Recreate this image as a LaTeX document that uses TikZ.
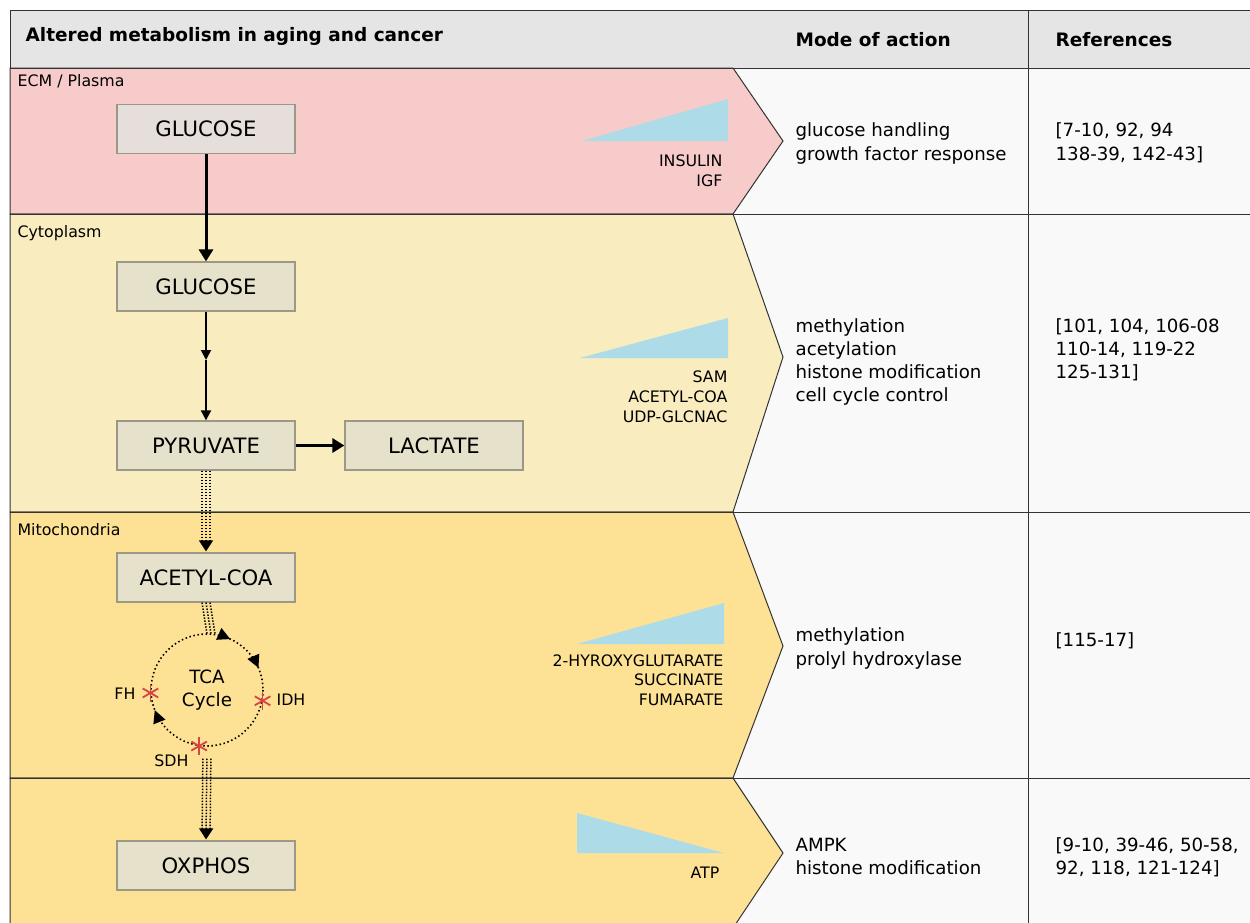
\documentclass[tikz,border=0pt]{standalone}
\usepackage{fontspec}
\setmainfont{DejaVu Sans}
\usetikzlibrary{arrows.meta,calc,decorations.markings}

\definecolor{plasma}{HTML}{F8CBCB}
\definecolor{cyto}{HTML}{F9ECBE}
\definecolor{mito}{HTML}{FDE194}
\definecolor{headgray}{HTML}{E5E5E5}
\definecolor{modecol}{HTML}{F9F9F9}
\definecolor{boxfill}{HTML}{E5E1CB}
\definecolor{boxpink}{HTML}{E6DEDA}
\definecolor{boxline}{HTML}{9C9888}
\definecolor{wedge}{HTML}{ADDBE7}
\definecolor{mutred}{HTML}{D64545}

\tikzset{every path/.style={line width=1.2pt}}
\tikzset{
  metab/.style={draw=boxline, fill=boxfill, minimum width=178pt, minimum height=49pt,
    inner sep=0pt, font=\fontsize{21.2}{24}\selectfont},
  region/.style={anchor=base west, inner sep=0pt, font=\fontsize{15.8}{18}\selectfont},
  modetext/.style={anchor=base west, inner sep=0pt, font=\fontsize{18.2}{22}\selectfont},
  levels/.style={anchor=base east, inner sep=0pt, font=\fontsize{15.8}{18}\selectfont},
  headtext/.style={anchor=base west, inner sep=0pt, font=\bfseries\fontsize{18.5}{22}\selectfont},
  band/.style={draw=black!80, line width=1pt},
  flow/.style={line width=3pt, -{Triangle[length=12pt,width=14pt]}},
  thinflow/.style={line width=1.8pt, -{Triangle[length=10pt,width=10pt]}},
  tripledot/.style={line width=1.5pt, dash pattern=on 1.4pt off 1.6pt},
  dottip/.style={tripledot, -{Triangle[length=11pt,width=14pt]}},
  mutline/.style={draw=mutred, line width=1.8pt},
  cycletips/.style={line width=1.6pt, dash pattern=on 1.5pt off 2.6pt,
    decoration={markings,
      mark=at position 0.44 with {\arrow{Triangle[length=12pt,width=12pt]}},
      mark=at position 0.817 with {\arrow{Triangle[length=12pt,width=12pt]}},
      mark=at position 0.934 with {\arrow{Triangle[length=12pt,width=12pt]}}},
    postaction={decorate}}
}

\begin{document}
\begin{tikzpicture}[x=1pt,y=-1pt]
\useasboundingbox (0,0) rectangle (1250,922);
\fill[white] (0,0) rectangle (1250,922);

% header and columns
\filldraw[band, fill=headgray] (10,10) rectangle (1260,68);
\fill[modecol] (733,68) rectangle (1260,940);
\filldraw[band, fill=plasma] (10,68) -- (733,68) -- (783,141) -- (733,214) -- (10,214) -- cycle;
\filldraw[band, fill=cyto] (10,214) -- (733,214) -- (783,357) -- (733,512) -- (10,512) -- cycle;
\filldraw[band, fill=mito] (10,512) -- (733,512) -- (783,646) -- (733,778) -- (10,778) -- cycle;
\filldraw[band, fill=mito] (10,778) -- (733,778) -- (783,853) -- (733,928) -- (10,928) -- cycle;
\foreach \y in {68,214,512,778}
  \draw[band] (10,\y) -- (1260,\y);
\draw[band] (1028,10) -- (1028,940);

\node[headtext] (title) at (25,41.7) {Altered metabolism in aging and cancer};
\node[headtext] (modehead) at (795,46) {Mode of action};
\node[headtext] (refhead) at (1055,46) {References};

\node[region] (ecm) at (17,86.7) {ECM / Plasma};
\node[region] (cyt) at (17,237.5) {Cytoplasm};
\node[region] (mit) at (17,535.5) {Mitochondria};

% metabolites
\node[metab, fill=boxpink] (glcout) at (206,129) {GLUCOSE};
\node[metab] (glcin) at (206,286.5) {GLUCOSE};
\node[metab] (pyr) at (206,445.5) {PYRUVATE};
\node[metab] (lac) at (434,445.5) {LACTATE};
\node[metab] (acoa) at (206,577.5) {ACETYL-COA};
\node[metab] (oxphos) at (206,865.5) {OXPHOS};

\coordinate (mid) at (206,360);
\draw[flow] (glcout) -- (glcin);
\draw[thinflow] (glcin) -- (mid);
\draw[thinflow] (mid) -- (pyr);
\draw[flow] (pyr) -- (lac);

% TCA cycle
\node[circle, minimum size=112pt, inner sep=0pt, align=center,
  font=\fontsize{18.3}{22.5}\selectfont] (tca) at (207,690) {TCA\\Cycle};
\draw[cycletips] (tca.center) circle[radius=56];

\foreach \dx in {-4,4}
  \draw[tripledot, shorten >=11pt] ([xshift=\dx pt]pyr.south) -- ([xshift=\dx pt]acoa.north);
\draw[dottip] (pyr.south) -- ([yshift=1pt]acoa.north);
\foreach \dx in {-4,0,4}
  \draw[tripledot] ([xshift=\dx pt]acoa.south) -- ([xshift=\dx pt]tca.86);
\foreach \dx in {-4,4}
  \draw[tripledot, shorten <=12pt, shorten >=11pt] ([xshift=\dx pt]tca.south) -- ([xshift=\dx pt]oxphos.north);
\draw[dottip, shorten <=12pt] (tca.south) -- ([yshift=1pt]oxphos.north);

% mutated enzymes
\foreach \a in {183.5,349.5,262}
  \foreach \r in {30,90,150}
    \draw[mutline] ($(tca.\a)+(\r:9)$) -- ($(tca.\a)+(\r+180:9)$);
\node[region, anchor=base east] (fh) at (136,699.5) {FH};
\node[region] (idh) at (276,705.5) {IDH};
\node[region, anchor=base east] (sdh) at (189,766) {SDH};

% concentration wedges
\fill[wedge] (582,141) -- (728,99) -- (728,141) -- cycle;
\fill[wedge] (580,358) -- (728,318) -- (728,358) -- cycle;
\fill[wedge] (577,644) -- (724,603) -- (724,644) -- cycle;
\fill[wedge] (577,813) -- (724,853) -- (577,853) -- cycle;

\foreach \t [count=\i] in {INSULIN,IGF}
  \node[levels] (lvla\i) at (723,146+20*\i) {\t};
\foreach \t [count=\i] in {SAM,ACETYL-COA,UDP-GLCNAC}
  \node[levels] (lvlb\i) at (728,362+20*\i) {\t};
\foreach \t [count=\i] in {2-HYROXYGLUTARATE,SUCCINATE,FUMARATE}
  \node[levels] (lvlc\i) at (724,646.5+19.5*\i) {\t};
\node[levels] (lvld1) at (720,878) {ATP};

% mode of action
\foreach \t [count=\i] in {glucose handling,growth factor response}
  \node[modetext] (moda\i) at (795,113.5+23.3*\i) {\t};
\foreach \t [count=\i] in {methylation,acetylation,histone modification,cell cycle control}
  \node[modetext] (modb\i) at (795,309+23.2*\i) {\t};
\foreach \t [count=\i] in {methylation,prolyl hydroxylase}
  \node[modetext] (modc\i) at (795,618.5+23.3*\i) {\t};
\foreach \t [count=\i] in {AMPK,histone modification}
  \node[modetext] (modd\i) at (795,828+23.3*\i) {\t};

% references
\node[modetext] (refa1) at (1055,136.7) {[7-10, 92, 94};
\node[modetext] (refa2) at (1055,160) {138-39, 142-43]};
\node[modetext] (refb1) at (1055,332) {[101, 104, 106-08};
\node[modetext] (refb2) at (1055,355.2) {110-14, 119-22};
\node[modetext] (refb3) at (1055,378.4) {125-131]};
\node[modetext] (refc1) at (1055,646.5) {[115-17]};
\node[modetext] (refd1) at (1055,851) {[9-10, 39-46, 50-58,};
\node[modetext] (refd2) at (1055,874.3) {92, 118, 121-124]};

\end{tikzpicture}
\end{document}
